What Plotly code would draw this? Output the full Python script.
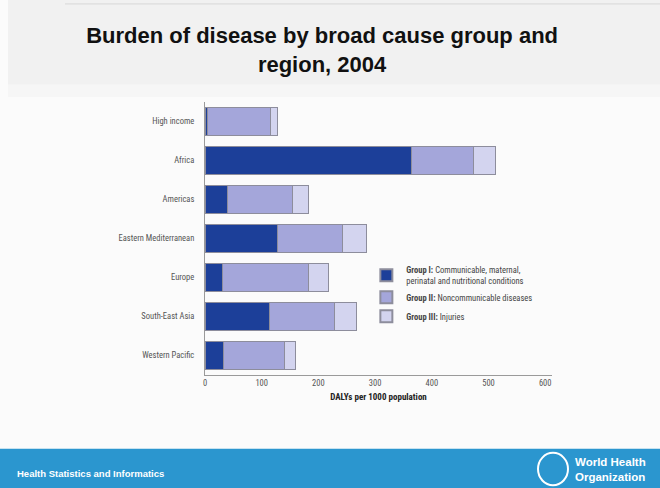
import plotly.graph_objects as go

regions = ["High income", "Africa", "Americas", "Eastern Mediterranean", "Europe", "South-East Asia", "Western Pacific"]
group1 = [5, 365, 40, 127, 30, 113, 32]
group2 = [110, 108, 115, 115, 152, 116, 108]
group3 = [12, 40, 27, 42, 35, 39, 20]
series_names = [
    "<b>Group I:</b> Communicable, maternal,<br>perinatal and nutritional conditions",
    "<b>Group II:</b> Noncommunicable diseases",
    "<b>Group III:</b> Injuries",
]
series_colors = ["#1c3f99", "#a4a6da", "#d3d4ef"]
x_ticks = [0, 100, 200, 300, 400, 500, 600]

fig = go.Figure()
for name, vals, col in zip(series_names, [group1, group2, group3], series_colors):
    fig.add_trace(go.Bar(
        y=regions, x=vals, name=name, orientation="h",
        marker=dict(color=col, line=dict(color="#8d8d9c", width=1)),
    ))

fig.update_layout(
    width=660, height=488,
    barmode="stack", bargap=0.3,
    margin=dict(l=205, r=108, t=102, b=113),
    paper_bgcolor="#fbfbfb", plot_bgcolor="rgba(0,0,0,0)",
    font=dict(family="Liberation Sans Narrow, Roboto Condensed, Liberation Sans, sans-serif", color="#444444", size=8.5),
    title=dict(
        text="Burden of disease by broad cause group and<br>region, 2004",
        x=0.488, xanchor="center", y=0.912, yanchor="top",
        font=dict(family="Liberation Sans, Arial, sans-serif", size=22, color="#111111", weight="bold"),
    ),
    showlegend=True,
    legend=dict(
        x=0.465, y=0.43, xanchor="left", yanchor="top",
        bgcolor="rgba(0,0,0,0)", traceorder="normal",
        font=dict(size=8.5, color="#444444"),
        itemsizing="constant", tracegroupgap=5, itemwidth=30,
    ),
    xaxis=dict(
        range=[0, 612], tickvals=x_ticks, showgrid=False, zeroline=False,
        showline=True, linecolor="#9a9a9a", linewidth=1,
        ticks="", tickfont=dict(size=8.5, color="#555555"),
        title=dict(text="<b>DALYs per 1000 population</b>", font=dict(size=9, color="#222222"), standoff=6),
    ),
    yaxis=dict(
        autorange="reversed", showgrid=False, zeroline=False,
        showline=True, linecolor="#9a9a9a", linewidth=1,
        ticks="", ticklabelstandoff=8, tickfont=dict(size=8.5, color="#555555"),
    ),
    shapes=[
        dict(type="rect", xref="paper", yref="paper", x0=(8-205)/347, x1=1+108/347,
             y0=(375-88)/270, y1=1+102/270, fillcolor="#f1f1f1", line=dict(width=0), layer="below"),
        dict(type="rect", xref="paper", yref="paper", x0=(8-205)/347, x1=1+108/347,
             y0=(375-100)/270, y1=(375-88)/270, fillcolor="#f6f6f6", line=dict(width=0), layer="below"),
        dict(type="line", xref="paper", yref="paper", x0=(65-205)/347, x1=1+108/347,
             y0=(375-8)/270, y1=(375-8)/270, line=dict(color="#d8d8d8", width=1), layer="below"),
        dict(type="rect", xref="paper", yref="paper", x0=-205/347, x1=1+108/347,
             y0=-113/270, y1=(375-448)/270, fillcolor="#2b96cf", line=dict(width=0), layer="below"),
        dict(type="circle", xref="paper", yref="paper", x0=(538-205)/347, x1=(568-205)/347,
             y0=(375-484)/270, y1=(375-452)/270, line=dict(color="white", width=2)),
    ],
    annotations=[
        dict(text="<b>Health Statistics and Informatics</b>", xref="paper", yref="paper",
             x=(15-205)/347, y=(375-472)/270, xanchor="left", yanchor="middle", showarrow=False,
             font=dict(family="Liberation Sans, sans-serif", size=9.5, color="white")),
        dict(text="<b>World Health<br>Organization</b>", xref="paper", yref="paper",
             x=(573-205)/347, y=(375-468)/270, xanchor="left", yanchor="middle", showarrow=False, align="left",
             font=dict(family="Liberation Sans, sans-serif", size=11.5, color="white")),
    ],
)

fig.write_html("out.html")
